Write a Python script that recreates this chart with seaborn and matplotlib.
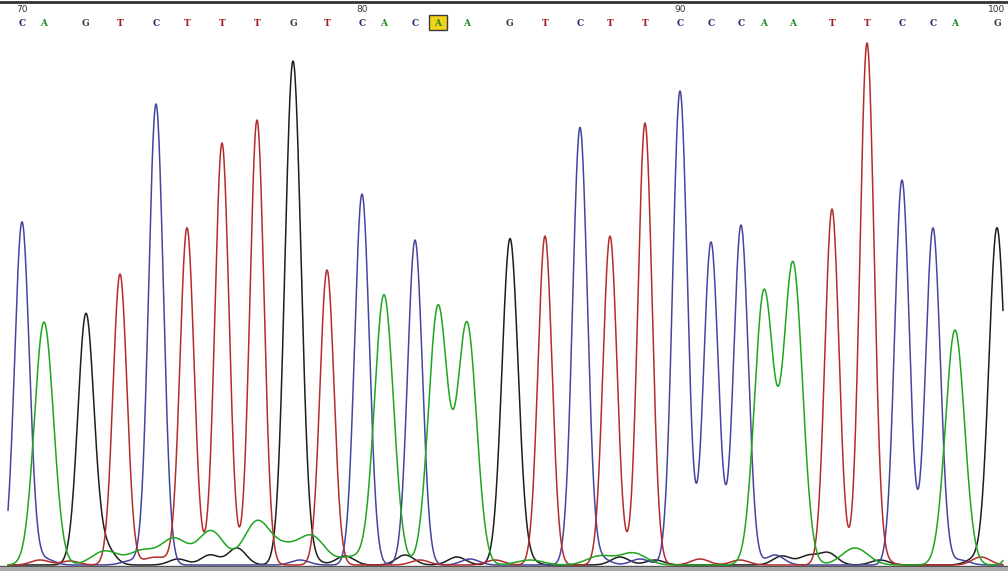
import numpy as np
import pandas as pd
import seaborn as sns
import matplotlib.pyplot as plt
from matplotlib.patches import Rectangle

sns.set_style("white")

# base calls 70..100 with the scan position and height of each called peak
bases = list("CAGTCTTTGTCACAAGTCTTCCCAATTCCAG")
first_position = 70
highlight_position = 83
call_scan = [22, 44, 86, 120, 156, 187, 222, 257, 293, 327, 362, 384, 415,
             438, 467, 510, 545, 580, 610, 645, 680, 711, 741, 764, 793, 832,
             867, 902, 933, 955, 997]
call_height = [343, 243, 245, 291, 461, 337, 422, 445, 503, 295, 371, 270,
               325, 258, 241, 325, 329, 437, 329, 442, 474, 323, 340, 273,
               301, 356, 520, 385, 337, 235, 337]

# next peak just past the right edge of the window
next_base = "A"
next_scan = 1030
next_height = 250

# low background peaks in each dye channel
minor_scan = {
    "A": [105, 142, 174, 211, 257, 285, 312, 352, 530, 600, 633, 855],
    "G": [80, 105, 178, 210, 237, 310, 345, 405, 457, 525, 620, 655, 782,
          808, 828, 880, 975],
    "C": [45, 130, 300, 470, 600, 640, 775, 960],
    "T": [40, 70, 150, 165, 420, 495, 700, 740, 880, 981],
}
minor_height = {
    "A": [14, 14, 26, 34, 43, 16, 28, 8, 5, 9, 12, 17],
    "G": [6, 18, 6, 10, 17, 6, 9, 10, 8, 6, 8, 5, 9, 9, 12, 5, 6],
    "C": [6, 4, 5, 6, 7, 6, 10, 5],
    "T": [5, 4, 6, 5, 5, 5, 6, 5, 6, 8],
}

scan_start, scan_end = 8, 1003

peak_width = {"A": 9.5, "C": 7.3, "G": 8.0, "T": 7.0}
minor_width = {"A": 13.0, "C": 9.0, "G": 9.0, "T": 9.0}
trace_colors = {"A": "#1fa51f", "C": "#45459e", "G": "#1e1e1e",
                "T": "#b52b2b"}
letter_colors = {"A": "#1b8c1b", "C": "#28286e", "G": "#3a3a3a",
                 "T": "#a31c1c"}


def peak(x, center, height, width):
    return height * np.exp(-0.5 * ((x - center) / width) ** 2)


scans = np.arange(scan_start, scan_end + 0.25, 0.5)
frames = []
for dye in ["G", "C", "T", "A"]:
    signal = np.zeros_like(scans)
    for b, s, h in zip(bases, call_scan, call_height):
        if b == dye:
            signal += peak(scans, s, h, peak_width[dye])
    if dye == next_base:
        signal += peak(scans, next_scan, next_height, peak_width[dye])
    for s, h in zip(minor_scan[dye], minor_height[dye]):
        signal += peak(scans, s, h, minor_width[dye])
    frames.append(pd.DataFrame({"scan": scans, "signal": signal,
                                "base": dye}))
traces = pd.concat(frames, ignore_index=True)

fig = plt.figure(figsize=(10.08, 5.71), dpi=100)
ax = fig.add_axes([0, 5 / 571, 1, 564 / 571])
sns.lineplot(data=traces, x="scan", y="signal", hue="base",
             hue_order=["G", "C", "T", "A"], palette=trace_colors,
             estimator=None, errorbar=None, linewidth=1.1, legend=False,
             ax=ax)
ax.set_xlim(0, 1008)
ax.set_ylim(-1, 563)
ax.set_xticks([])
ax.set_yticks([])
ax.set_xlabel("")
ax.set_ylabel("")
ax.spines["left"].set_visible(False)
ax.spines["right"].set_visible(False)
ax.spines["top"].set_color("#333333")
ax.spines["top"].set_linewidth(2)
ax.spines["bottom"].set_color("#555555")
ax.spines["bottom"].set_linewidth(1)

# base letters and position ruler
for i, (b, s) in enumerate(zip(bases, call_scan)):
    pos = first_position + i
    if pos == highlight_position:
        ax.add_patch(Rectangle((s - 9, 535), 18, 15, facecolor="#f3d21c",
                               edgecolor="#3a3a3a", linewidth=1, zorder=3))
    ax.text(s, 542, b, ha="center", va="center", fontsize=6.5,
            fontweight="bold", family="DejaVu Serif",
            color=letter_colors[b], zorder=4)
    if pos % 10 == 0:
        ax.text(s, 556, str(pos), ha="center", va="center", fontsize=6.5,
                family="DejaVu Sans", color="#333333", zorder=4)

fig.patches.append(Rectangle((0, 0), 1, 4 / 571, transform=fig.transFigure,
                             facecolor="#a9a9a9", edgecolor="none"))
fig.savefig("out.png", dpi=100)
plt.close(fig)
